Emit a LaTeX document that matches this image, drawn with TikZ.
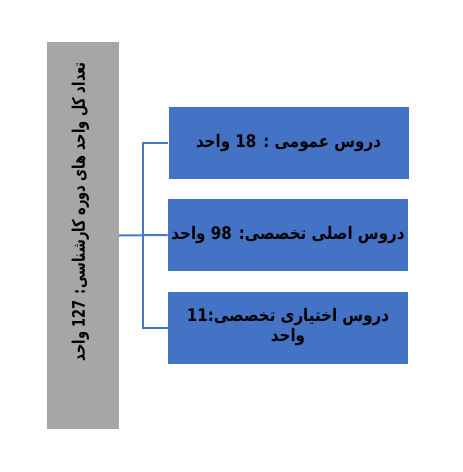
\documentclass[tikz,border=0pt]{standalone}
\usepackage{fontspec}
\TeXXeTstate=1
\newfontfamily\arabicfont[Script=Arabic,FakeStretch=0.87]{DejaVu Sans}
\newfontfamily\arabicnarrow[Script=Arabic,FakeStretch=0.75]{DejaVu Sans}
\definecolor{boxblue}{HTML}{4472C4}
\definecolor{boxgray}{HTML}{A6A6A6}
\definecolor{lineblue}{HTML}{4A76C6}
\begin{document}
\begin{tikzpicture}[x=0.75pt,y=-0.75pt,
  bluebox/.style={rectangle,fill=boxblue,draw=none,minimum width=180pt,minimum height=54pt,inner sep=0pt,align=center,
    font=\arabicfont\bfseries\fontsize{13}{16}\selectfont},
  graybox/.style={rectangle,fill=boxgray,draw=none,minimum width=54pt,minimum height=290.25pt,inner sep=0pt},
  graytext/.style={rotate=90,inner sep=0pt,font=\arabicnarrow\bfseries\fontsize{13}{16}\selectfont},
  link/.style={draw=lineblue,line width=1.5pt}]
\useasboundingbox (0,0) rectangle (462,472);
\node[graybox] (gray) at (82.5,235.5) {};
\node[graytext,anchor=east] (gtext) at (80.5,62) {\beginR تعداد کل واحد های دوره کارشناسی: \beginL 127\endL{} واحد\endR};
\node[bluebox] (b1) at (288.5,143) {\beginR دروس عمومی : \beginL 18\endL{} واحد\endR};
\node[bluebox] (b2) at (288,235) {\beginR دروس اصلی تخصصی: \beginL 98\endL{} واحد\endR};
\node[bluebox] (b3) at (288,327.5) {\beginR دروس اختیاری تخصصی:\beginL 11\endL\endR\\[-1pt]\beginR واحد\endR};
\coordinate (sp) at (143,235);
\draw[link] (gray.east) -- (b2.west);
\draw[link] (b1.west) -- (b1.west -| sp) -- (b3.west -| sp) -- (b3.west);
\end{tikzpicture}
\end{document}
